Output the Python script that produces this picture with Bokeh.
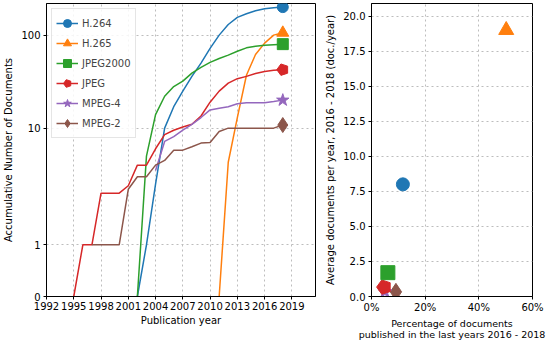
import numpy as np
from bokeh.plotting import figure
from bokeh.layouts import row
from bokeh.models import FixedTicker, Range1d, Legend, LegendItem, PrintfTickFormatter
from bokeh.embed import file_html
from bokeh.resources import INLINE

# ---------------- data ----------------
names = ["H.264", "H.265", "JPEG2000", "JPEG", "MPEG-4", "MPEG-2"]
colors = ["#1f77b4", "#ff7f0e", "#2ca02c", "#d62728", "#9467bd", "#8c564b"]

h264_years = list(range(2002, 2019))
h264_docs = [0, 1, 2.5, 10, 17, 25, 36, 50, 72, 100, 130, 155, 170, 183, 192, 197, 200]
h265_years = list(range(2011, 2019))
h265_docs = [0, 4.3, 13, 37, 62, 82, 100, 106]
jpeg2000_years = list(range(2002, 2019))
jpeg2000_docs = [0, 5, 14, 22, 28, 32, 39, 45, 51, 56, 61, 67, 73, 76, 78, 79, 80]
jpeg_years = list(range(1995, 2019))
jpeg_docs = [0, 1, 1, 2, 2, 2, 2.4, 4, 4, 6, 8.5, 9.5, 10.3, 11, 13.5, 19, 25, 30.5,
             34, 36, 38.6, 40.6, 42, 42.5]
mpeg4_years = list(range(2004, 2019))
mpeg4_docs = [3.5, 7.2, 8.1, 9.5, 11, 13, 15.7, 16.4, 17, 18.3, 18.7, 18.7, 18.7, 19.3, 20]
mpeg2_years = list(range(1997, 2019))
mpeg2_docs = [1, 1, 1, 1, 2.2, 3, 3, 4, 4.5, 5.8, 5.8, 6.3, 6.9, 7, 9.2, 10, 10, 10, 10,
              10, 10, 10.8]

recent_pct = [11.7, 50.2, 6.1, 4.7, 5.0, 9.1]
recent_avg = [8.0, 19.0, 1.7, 0.67, 0.33, 0.33]

x_ticks = list(range(1992, 2020, 3))
y_tick_values = [0, 1, 10, 100]
pct_ticks = [0, 20, 40, 60]
avg_ticks = [0, 2.5, 5, 7.5, 10, 12.5, 15, 17.5, 20]

series_years = [h264_years, h265_years, jpeg2000_years, jpeg_years, mpeg4_years, mpeg2_years]
series_docs = [h264_docs, h265_docs, jpeg2000_docs, jpeg_docs, mpeg4_docs, mpeg2_docs]
markers = ["circle", "triangle", "square", "pentagon", "star", "diamond"]
left_sizes = [11, 12, 11, 6, 13, 15]
right_sizes = [13, 15, 14, 7.5, 14, 17]

FONT = "DejaVu Sans"


# symmetric-log transform (linthresh=2, base 10, linscale=1)
def symlog(v):
    L = 2.0
    c = 1.0 / (1.0 - 1.0 / 10.0)
    v = float(v)
    if v <= L:
        return v * c
    return L * (c + np.log10(v / L))


def style(p):
    p.background_fill_color = "white"
    p.border_fill_color = "white"
    p.outline_line_color = "black"
    p.outline_line_width = 1
    p.outline_line_alpha = 1
    for ax in p.axis:
        ax.axis_line_color = "black"
        ax.major_tick_line_color = "black"
        ax.major_tick_out = 3
        ax.major_tick_in = 0
        ax.minor_tick_line_color = None
        ax.major_label_text_font = FONT
        ax.major_label_text_font_size = "10px"
        ax.major_label_text_color = "black"
        ax.major_label_standoff = 3
        ax.axis_label_text_font = FONT
        ax.axis_label_text_font_size = "10px"
        ax.axis_label_text_font_style = "normal"
        ax.axis_label_text_color = "black"
        ax.axis_label_standoff = 4
        ax.axis_label_text_line_height = 1.0
    for ax in p.xaxis:
        ax.major_label_standoff = 2
        ax.axis_label_standoff = 2
    for g in p.grid:
        g.grid_line_color = "#bdbdbd"
        g.grid_line_dash = "2 3"
        g.grid_line_width = 1


def add_marker(p, kind, x, y, size, color):
    if kind == "pentagon":
        try:
            return p.ngon(x=x, y=y, radius=size, radius_units="screen", n=5,
                          angle=np.pi / 2, fill_color=color, line_color=color)
        except Exception:
            return p.scatter(x=x, y=y, marker="hex", size=2 * size, angle=np.pi / 2,
                             fill_color=color, line_color=color)
    return p.scatter(x=x, y=y, marker=kind, size=size, fill_color=color, line_color=color)


# ---------------- left panel ----------------
p1 = figure(width=322, height=342, output_backend="svg", toolbar_location=None,
            x_range=Range1d(1992, 2021.6), y_range=Range1d(0, 6.30),
            min_border_left=10, min_border_right=7, min_border_top=3, min_border_bottom=40)

items = []
for name, col, yrs, docs, mk, sz in zip(names, colors, series_years, series_docs, markers, left_sizes):
    ty = [symlog(v) for v in docs]
    ln = p1.line(x=yrs, y=ty, line_color=col, line_width=1.5)
    mr = add_marker(p1, mk, [yrs[-1]], [ty[-1]], sz, col)
    items.append(LegendItem(label=name, renderers=[ln, mr]))

ytick_pos = [round(symlog(v), 6) for v in y_tick_values]
p1.yaxis.ticker = FixedTicker(ticks=ytick_pos)
p1.yaxis.major_label_overrides = {pos: str(v) for pos, v in zip(ytick_pos, y_tick_values)}
p1.xaxis.ticker = FixedTicker(ticks=x_ticks)
p1.xaxis.axis_label = "Publication year"
p1.yaxis.axis_label = "Accumulative Number of Documents"
style(p1)

legend = Legend(items=items, location="top_left", margin=5, padding=4, spacing=-6,
                glyph_width=22, glyph_height=20, label_standoff=4,
                label_text_font=FONT, label_text_font_size="10px",
                border_line_color="#cccccc", border_line_width=1,
                background_fill_color="white", background_fill_alpha=0.85)
p1.add_layout(legend)

# ---------------- right panel ----------------
p2 = figure(width=227, height=342, output_backend="svg", toolbar_location=None,
            x_range=Range1d(0, 60), y_range=Range1d(0, 20.9),
            min_border_left=10, min_border_right=17, min_border_top=3, min_border_bottom=40)

for i in reversed(range(len(names))):
    add_marker(p2, markers[i], [recent_pct[i]], [recent_avg[i]], right_sizes[i], colors[i])

p2.xaxis.ticker = FixedTicker(ticks=pct_ticks)
p2.xaxis.major_label_overrides = {t: f"{t}%" for t in pct_ticks}
p2.yaxis.ticker = FixedTicker(ticks=avg_ticks)
p2.yaxis.formatter = PrintfTickFormatter(format="%.1f")
p2.xaxis.axis_label = "Percentage of documents\npublished in the last years 2016 - 2018"
p2.yaxis.axis_label = "Average documents per year, 2016 - 2018 (doc./year)"
style(p2)
p2.xaxis.axis_label_text_font_size = "9.5px"

layout = row(p1, p2)
open("out.html", "w").write(file_html(layout, INLINE))
